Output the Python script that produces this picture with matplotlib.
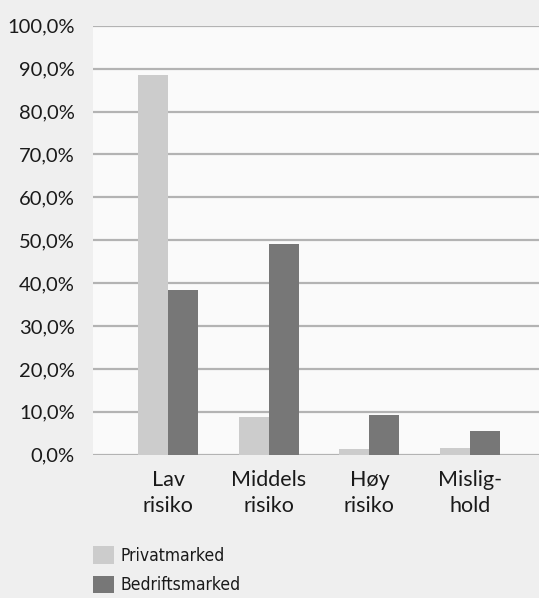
import matplotlib
matplotlib.use("Agg")
import matplotlib.pyplot as plt
import numpy as np

# Risk classes and share of exposure per market (%)
categories = ["Lav\nrisiko", "Middels\nrisiko", "Høy\nrisiko", "Mislig-\nhold"]
privatmarked = [88.5, 8.8, 1.3, 1.5]
bedriftsmarked = [38.4, 49.1, 9.3, 5.5]
series_names = ["Privatmarked", "Bedriftsmarked"]
y_ticks = np.arange(0, 101, 10)

BG = "#efefef"
FACE = "#fafafa"
GRID = "#b3b3b3"
C_PRIV = "#cccccc"
C_BED = "#777777"

plt.rcParams["font.family"] = ["Lato", "DejaVu Sans"]

fig = plt.figure(figsize=(5.39, 5.98), dpi=100, facecolor=BG)
ax = fig.add_axes([93 / 539, 1 - 454.7 / 598, 1 - 93 / 539, (454.7 - 25.7) / 598])
ax.set_facecolor(FACE)

x = np.arange(len(categories))
w = 0.298
b1 = ax.bar(x - w / 2, privatmarked, width=w, color=C_PRIV, zorder=3,
            label=series_names[0])
b2 = ax.bar(x + w / 2, bedriftsmarked, width=w, color=C_BED, zorder=3,
            label=series_names[1])

ax.set_xlim(-0.745, 3.684)
ax.set_ylim(0, 100)
ax.set_yticks(y_ticks)
ax.set_yticklabels([f"{v:.1f}%".replace(".", ",") for v in y_ticks],
                   fontsize=14.5, color="#1a1a1a")
ax.yaxis.grid(True, color=GRID, linewidth=1.6, zorder=1)
ax.set_axisbelow(True)
ax.tick_params(axis="y", length=0, pad=13)
ax.set_xticks(x)
ax.set_xticklabels(categories, fontsize=15.5, color="#1a1a1a", linespacing=1.4)
ax.tick_params(axis="x", length=0, pad=11)
for s in ax.spines.values():
    s.set_visible(False)

leg = fig.legend(handles=[b1, b2], loc="upper left",
                 bbox_to_anchor=(93 / 539, 1 - 546 / 598), frameon=False,
                 handlelength=1.2, handleheight=1.2, handletextpad=0.4,
                 labelspacing=0.62, borderpad=0, borderaxespad=0,
                 prop={"family": "DejaVu Sans", "stretch": "condensed",
                       "size": 12.5})
for t in leg.get_texts():
    t.set_color("#1a1a1a")

fig.savefig("out.png", dpi=100, facecolor=BG)
